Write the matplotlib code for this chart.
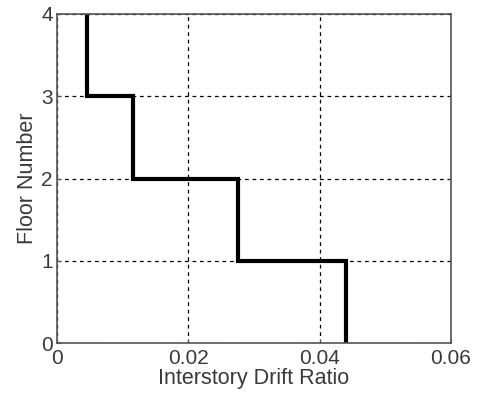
import numpy as np
import matplotlib.pyplot as plt

# Peak interstory drift ratio for each story (story 1 at bottom)
floors = [0, 1, 2, 3, 4]
drift = [0.044, 0.0276, 0.0116, 0.0046]
xticks = [0, 0.02, 0.04, 0.06]
xticklabels = ['0', '0.02', '0.04', '0.06']

plt.rcParams['font.family'] = 'Liberation Sans'

fig = plt.figure(figsize=(4.81, 3.98), dpi=100)
ax = fig.add_axes([0.1185, 0.138, 0.8191, 0.827])

# Each story drawn as a vertical segment joined by horizontal steps
xs = np.repeat(drift, 2)
ys = np.repeat(floors, 2)[1:-1]
ax.plot(xs, ys, color='black', linewidth=3, solid_joinstyle='miter')

ax.set_xlim(0, 0.06)
ax.set_ylim(0, 4)
ax.set_xticks(xticks)
ax.set_xticklabels(xticklabels)
ax.set_yticks(floors)

ax.grid(True, color='black', linestyle=(0, (3, 3)), linewidth=0.9)
for s in ax.spines.values():
    s.set_color('#555555')
    s.set_linewidth(1.2)
    s.set_zorder(3)

ax.tick_params(direction='in', length=3, color='#555555', labelsize=15,
               labelcolor='#3a3a3a')
ax.tick_params(axis='x', pad=4)
ax.tick_params(axis='y', pad=3)
ax.set_xlabel('Interstory Drift Ratio', fontsize=15.5, color='#3a3a3a', labelpad=0)
ax.set_ylabel('Floor Number', fontsize=15.5, color='#3a3a3a', labelpad=2)

fig.savefig('out.png', dpi=100)
